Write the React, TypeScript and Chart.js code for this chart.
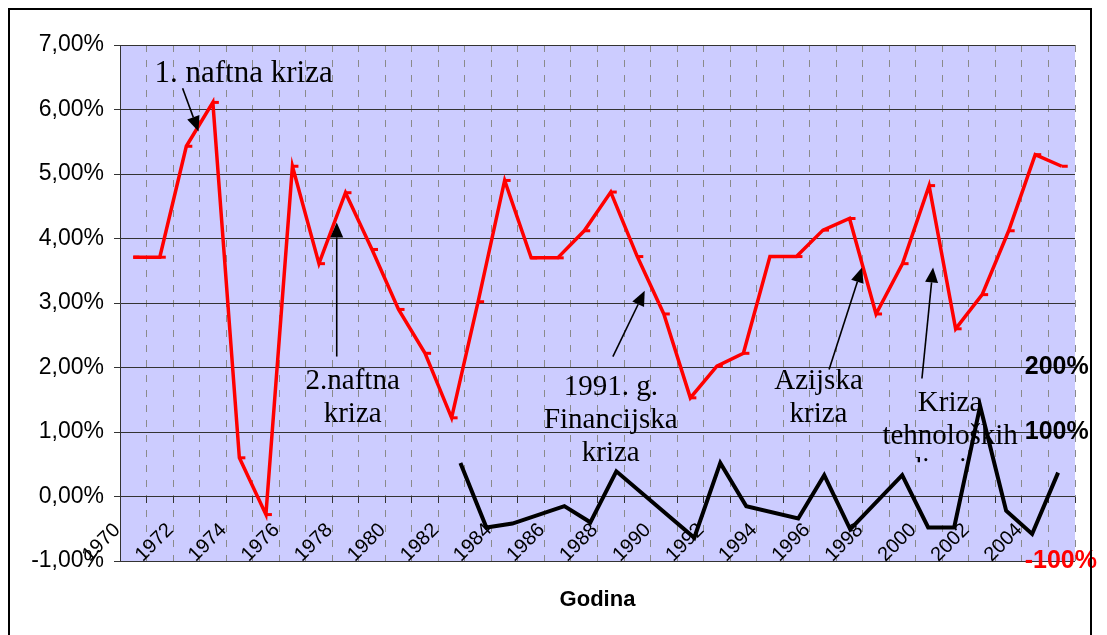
import React, { useEffect, useRef } from 'react';
import { Chart, registerables } from 'chart.js';

Chart.register(...registerables);

// ---------- data ----------
const years: string[] = [
  '1970', '1971', '1972', '1973', '1974', '1975', '1976', '1977', '1978', '1979',
  '1980', '1981', '1982', '1983', '1984', '1985', '1986', '1987', '1988', '1989',
  '1990', '1991', '1992', '1993', '1994', '1995', '1996', '1997', '1998', '1999',
  '2000', '2001', '2002', '2003', '2004', '2005',
];

// red series, left axis (%)
const growthRate: number[] = [
  3.71, 3.71, 5.43, 6.11, 0.6, -0.28, 5.12, 3.61, 4.71, 3.83,
  2.9, 2.22, 1.22, 3.02, 4.9, 3.7, 3.7, 4.12, 4.72, 3.72,
  2.83, 1.53, 2.02, 2.22, 3.72, 3.72, 4.13, 4.31, 2.83, 3.61,
  4.82, 2.6, 3.13, 4.12, 5.3, 5.12,
];

// black series, right axis (%)
const blackYears: number[] = [
  1982, 1983, 1984, 1986, 1987, 1988, 1991, 1992, 1993, 1995,
  1996, 1997, 1999, 2000, 2001, 2002, 2003, 2004, 2005,
];
const blackValues: number[] = [
  52, -48, -42, -15, -40, 39, -64, 52, -15, -34,
  33, -51, 33, -48, -48, 140, -22, -58, 37,
];

const rightAxisLabels: number[] = [200, 100, -100];
const xAxisTitle = 'Godina';

// annotations: anchors in data coordinates (year, left-axis value)
const annotationTexts: string[][] = [
  ['1. naftna kriza'],
  ['2.naftna', 'kriza'],
  ['1991. g.', 'Financijska', 'kriza'],
  ['Azijska', 'kriza'],
  ['Kriza', 'tehnoloških', 'dionica'],
];
const annotationTextAnchor: number[][] = [
  [1974.16, 6.43],
  [1978.27, 1.66],
  [1988.0, 1.57],
  [1995.83, 1.66],
  [2000.79, 1.33],
];
const annotationArrowTail: number[][] = [
  [1971.86, 6.33],
  [1977.67, 2.17],
  [1988.08, 2.17],
  [1996.23, 1.97],
  [1999.73, 1.83],
];
const annotationArrowTip: number[][] = [
  [1972.46, 5.66],
  [1977.67, 4.25],
  [1989.28, 3.19],
  [1997.47, 3.55],
  [2000.15, 3.55],
];
const annotationClipValue: (number | null)[] = [null, null, null, null, 0.53];
const annotationFontSize: number[] = [31, 29, 29, 29, 29];

const SANS = '"Liberation Sans", Arial, sans-serif';
const SERIF = '"Liberation Serif", "Times New Roman", serif';

function drawArrow(ctx: CanvasRenderingContext2D, x1: number, y1: number, x2: number, y2: number) {
  const ang = Math.atan2(y2 - y1, x2 - x1);
  const L = 15;
  const W = 6.5;
  const bx = x2 - L * Math.cos(ang);
  const by = y2 - L * Math.sin(ang);
  ctx.beginPath();
  ctx.moveTo(x1, y1);
  ctx.lineTo(bx, by);
  ctx.lineWidth = 1.6;
  ctx.strokeStyle = '#000';
  ctx.stroke();
  ctx.beginPath();
  ctx.moveTo(x2, y2);
  ctx.lineTo(bx + W * Math.sin(ang), by - W * Math.cos(ang));
  ctx.lineTo(bx - W * Math.sin(ang), by + W * Math.cos(ang));
  ctx.closePath();
  ctx.fillStyle = '#000';
  ctx.fill();
}

const decorPlugin = {
  id: 'decor',
  beforeDraw(chart: any) {
    const { ctx, chartArea, width, height } = chart;
    ctx.save();
    ctx.fillStyle = '#FFFFFF';
    ctx.fillRect(0, 0, width, height);
    ctx.fillStyle = '#CCCCFF';
    ctx.fillRect(chartArea.left, chartArea.top, chartArea.right - chartArea.left, chartArea.bottom - chartArea.top);
    ctx.restore();
  },
  afterDatasetsDraw(chart: any) {
    const { ctx } = chart;
    const xs = chart.scales.x;
    const ys = chart.scales.y;
    const px = (yr: number) => xs.getPixelForValue(yr - 1970);
    const py = (v: number) => ys.getPixelForValue(v);
    ctx.save();
    ctx.fillStyle = '#000';
    ctx.textAlign = 'center';
    ctx.textBaseline = 'alphabetic';
    annotationTexts.forEach((lines, k) => {
      const cx = px(annotationTextAnchor[k][0]);
      const by = py(annotationTextAnchor[k][1]);
      ctx.save();
      ctx.font = `${annotationFontSize[k]}px ${SERIF}`;
      const clipV = annotationClipValue[k];
      if (clipV !== null) {
        ctx.beginPath();
        ctx.rect(0, 0, chart.width, py(clipV));
        ctx.clip();
      }
      lines.forEach((t, j) => {
        ctx.fillText(t, cx, by + j * 33);
      });
      ctx.restore();
      drawArrow(
        ctx,
        px(annotationArrowTail[k][0]), py(annotationArrowTail[k][1]),
        px(annotationArrowTip[k][0]), py(annotationArrowTip[k][1]),
      );
    });
    ctx.restore();
  },
  afterDraw(chart: any) {
    const { ctx, chartArea } = chart;
    ctx.save();
    ctx.fillStyle = '#000';
    ctx.font = `bold 22px ${SANS}`;
    ctx.textAlign = 'center';
    ctx.textBaseline = 'alphabetic';
    ctx.fillText(xAxisTitle, (chartArea.left + chartArea.right) / 2, chartArea.bottom + 45);
    ctx.lineWidth = 2;
    ctx.strokeStyle = '#000';
    ctx.strokeRect(9, 9, 1082, 700);
    ctx.restore();
  },
};

export default function App() {
  const ref = useRef<HTMLCanvasElement>(null);
  useEffect(() => {
    if (!ref.current) return;
    const chart = new Chart(ref.current, {
      type: 'line',
      data: {
        labels: years,
        datasets: [
          {
            data: growthRate,
            xAxisID: 'x',
            yAxisID: 'y',
            borderColor: '#FF0000',
            borderWidth: 3.5,
            pointStyle: 'dash',
            pointRadius: 6,
            pointBorderColor: '#FF0000',
            pointBackgroundColor: '#FF0000',
            pointBorderWidth: 3,
            tension: 0,
            fill: false,
          },
          {
            data: blackYears.map((yr, i) => ({ x: yr, y: blackValues[i] })),
            xAxisID: 'x2',
            yAxisID: 'y2',
            borderColor: '#000000',
            borderWidth: 4,
            pointRadius: 0,
            tension: 0,
            fill: false,
          },
        ],
      } as any,
      plugins: [decorPlugin],
      options: {
        responsive: false,
        animation: false,
        events: [],
        layout: { padding: { left: 20, right: 32, top: 45, bottom: 74 } },
        plugins: { legend: { display: false }, tooltip: { enabled: false }, title: { display: false } },
        scales: {
          x: {
            type: 'category',
            offset: true,
            position: { y: 0 } as any,
            grid: {
              offset: true,
              color: '#8a8a8a',
              lineWidth: 1,
              drawTicks: true,
              tickLength: 6,
              tickColor: '#333333',
              tickWidth: 1,
            },
            border: { display: false, dash: [7, 8] },
            ticks: {
              autoSkip: false,
              minRotation: 45,
              maxRotation: 45,
              labelOffset: -16,
              padding: 16,
              color: '#000',
              font: { family: SANS, size: 20 },
              callback: (_v: any, i: number) => (i % 2 === 0 ? years[i] : ''),
            },
          },
          x2: {
            type: 'linear',
            display: false,
            min: 1968.9,
            max: 2005.65,
          },
          y: {
            type: 'linear',
            position: 'left',
            min: -1,
            max: 7,
            grid: { color: '#333333', lineWidth: 1, tickLength: 6, tickColor: '#333333' },
            border: { display: true, color: '#333333', width: 1 },
            ticks: {
              stepSize: 1,
              padding: 10,
              color: '#000',
              font: { family: SANS, size: 23 },
              callback: (v: any) => Number(v).toFixed(2).replace('.', ',') + '%',
            },
            afterFit: (s: any) => { s.width = 100; },
          },
          y2: {
            type: 'linear',
            position: 'right',
            min: -100,
            max: 700,
            grid: { display: false, drawTicks: false, drawOnChartArea: false },
            border: { display: false },
            ticks: {
              stepSize: 100,
              mirror: true,
              crossAlign: 'far',
              padding: 22,
              font: { family: SANS, size: 25, weight: 'bold' },
              color: (c: any) => (c.tick && c.tick.value === -100 ? '#FF0000' : '#000000'),
              callback: (v: any) => (rightAxisLabels.includes(Number(v)) ? `${v}%` : ''),
            },
            afterFit: (s: any) => { s.width = 0; },
          },
        } as any,
      },
    });
    return () => chart.destroy();
  }, []);
  return (
    <canvas
      ref={ref}
      width={1107}
      height={635}
      style={{ position: 'fixed', left: 0, top: 0, width: 1107, height: 635, display: 'block' }}
    />
  );
}
